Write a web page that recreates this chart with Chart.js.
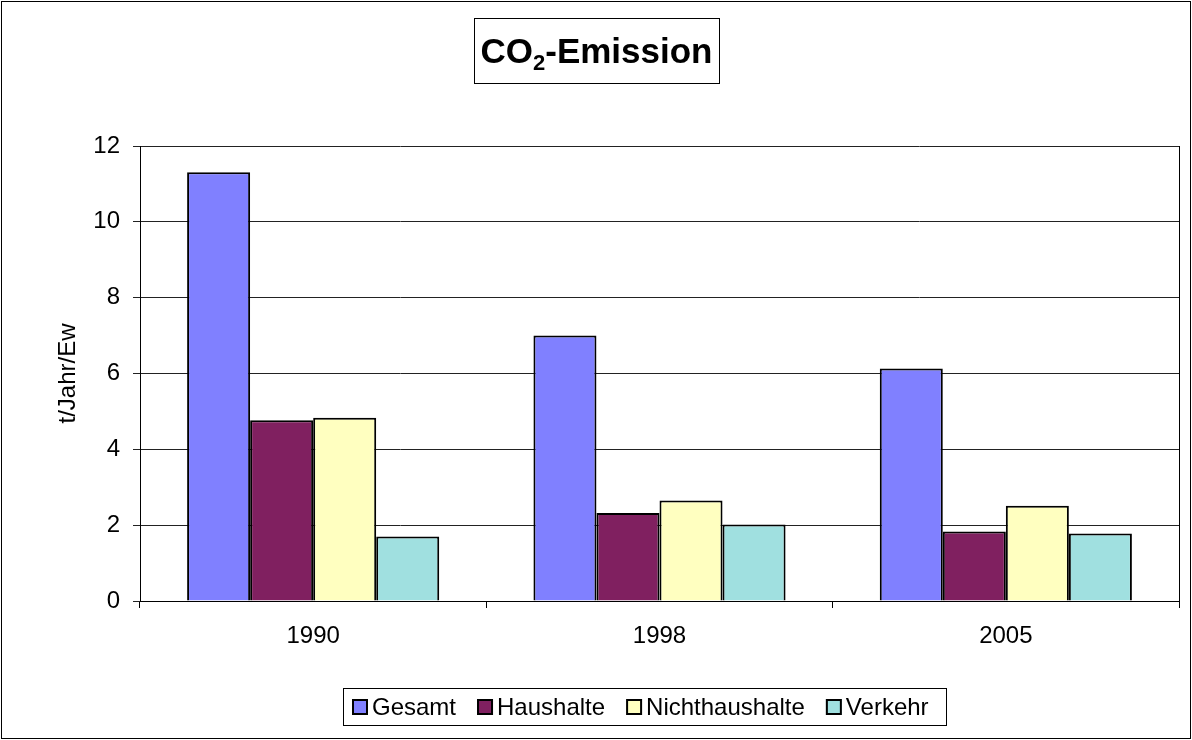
<!DOCTYPE html>
<html>
<head>
<meta charset="utf-8">
<script src="https://cdn.jsdelivr.net/npm/chart.js@4/dist/chart.umd.min.js"></script>
<style>
  html, body { margin: 0; padding: 0; background: #fff; }
  canvas { display: block; }
</style>
</head>
<body>
<canvas id="co2Chart" width="1192" height="740"></canvas>
<script>
// Werte (t/Jahr/Ew)
const categories = ['1990', '1998', '2005'];
const gesamt = [11.31, 7.00, 6.13];
const haushalte = [4.77, 2.32, 1.83];
const nichthaushalte = [4.83, 2.65, 2.51];
const verkehr = [1.70, 2.02, 1.78];
const yTicks = [0, 2, 4, 6, 8, 10, 12];

const FONT = "'Liberation Sans', Arial, sans-serif";

// Rahmen, Titelbox und Legende selbst zeichnen (wie im Excel-Original)
const framePlugin = {
    id: 'frame',
    afterDraw(chart) {
        const ctx = chart.ctx;
        const area = chart.chartArea;
        ctx.save();
        ctx.strokeStyle = '#000';
        ctx.lineWidth = 1;

        // äußerer Rahmen
        ctx.strokeRect(1.5, 1.5, 1189, 737);

        // rechte Kante der Zeichenfläche
        ctx.beginPath();
        ctx.moveTo(Math.round(area.right) + 0.5, area.top);
        ctx.lineTo(Math.round(area.right) + 0.5, area.bottom);
        ctx.stroke();

        // Titel mit tiefgestellter 2
        ctx.strokeRect(474.5, 18.5, 245, 65);
        ctx.fillStyle = '#000';
        ctx.textBaseline = 'alphabetic';
        ctx.textAlign = 'left';
        const big = 'bold 35px ' + FONT;
        const small = 'bold 22px ' + FONT;
        ctx.font = big;
        const w1 = ctx.measureText('CO').width;
        const w3 = ctx.measureText('-Emission').width;
        ctx.font = small;
        const w2 = ctx.measureText('2').width;
        let x = 596.5 - (w1 + w2 + w3) / 2;
        const base = 63;
        ctx.font = big;
        ctx.fillText('CO', x, base);
        x += w1;
        ctx.font = small;
        ctx.fillText('2', x, base + 7);
        x += w2;
        ctx.font = big;
        ctx.fillText('-Emission', x, base);

        // Legende
        ctx.strokeRect(343.5, 688.5, 603, 37);
        ctx.font = '24px ' + FONT;
        ctx.textBaseline = 'middle';
        let lx = 352;
        chart.data.datasets.forEach(ds => {
            ctx.fillStyle = ds.backgroundColor;
            ctx.fillRect(lx, 699, 16, 16);
            ctx.lineWidth = 2;
            ctx.strokeRect(lx + 1, 700, 14, 14);
            ctx.fillStyle = '#000';
            ctx.fillText(ds.label, lx + 20, 708);
            lx += 20 + ctx.measureText(ds.label).width + 21;
        });
        ctx.restore();
    }
};

const ctx = document.getElementById('co2Chart').getContext('2d');

const co2Chart = new Chart(ctx, {
    type: 'bar',
    data: {
        labels: categories,
        datasets: [
            { label: 'Gesamt', data: gesamt, backgroundColor: '#8080FF' },
            { label: 'Haushalte', data: haushalte, backgroundColor: '#802060' },
            { label: 'Nichthaushalte', data: nichthaushalte, backgroundColor: '#FFFFC0' },
            { label: 'Verkehr', data: verkehr, backgroundColor: '#A0E0E0' }
        ].map(ds => Object.assign(ds, {
            borderColor: '#000',
            borderWidth: 2,
            categoryPercentage: 0.728,
            barPercentage: 1.0
        }))
    },
    options: {
        responsive: false,
        animation: false,
        layout: { padding: { left: 50, right: 13, top: 146, bottom: 0 } },
        plugins: {
            legend: { display: false },
            title: { display: false },
            tooltip: { enabled: false }
        },
        scales: {
            x: {
                afterFit: scale => { scale.height = 139; },
                grid: {
                    offset: true,
                    drawOnChartArea: false,
                    drawTicks: true,
                    tickLength: 7,
                    color: '#000'
                },
                border: { display: true, color: '#000', width: 1 },
                ticks: {
                    color: '#000',
                    padding: 14,
                    font: { family: FONT, size: 24 }
                }
            },
            y: {
                min: 0,
                max: 12,
                afterFit: scale => { scale.width = 90; },
                afterBuildTicks: scale => {
                    scale.ticks = yTicks.map(v => ({ value: v }));
                },
                grid: {
                    color: '#222',
                    lineWidth: 1,
                    drawTicks: true,
                    tickLength: 7
                },
                border: { display: true, color: '#000', width: 1 },
                ticks: {
                    color: '#000',
                    padding: 13,
                    font: { family: FONT, size: 24 }
                },
                title: {
                    display: true,
                    text: 't/Jahr/Ew',
                    color: '#000',
                    padding: { top: 4, bottom: 4 },
                    font: { family: FONT, size: 24 }
                }
            }
        }
    },
    plugins: [framePlugin]
});
</script>
</body>
</html>
